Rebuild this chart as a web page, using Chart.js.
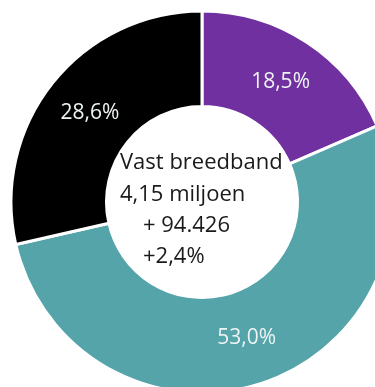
<!DOCTYPE html>
<html>
<head>
<meta charset="utf-8">
<script src="https://cdn.jsdelivr.net/npm/chart.js@4.4.0/dist/chart.umd.min.js"></script>
<style>
  html, body { margin: 0; padding: 0; background: #fff; }
  #wrap { position: relative; width: 375px; height: 387px; overflow: hidden; background: #fff; }
  #c { position: absolute; left: 0; top: 0; }
</style>
</head>
<body>
<div id="wrap"><canvas id="c" width="404" height="404"></canvas></div>
<script>
const categories = ["Paars", "Turquoise", "Zwart"];
const shares = [18.5, 53.0, 28.6];
const shareLabels = ["18,5%", "53,0%", "28,6%"];
const colors = ["#7030A0", "#54A4AA", "#000000"];
const centerLines = ["Vast breedband", "4,15 miljoen", "+ 94.426", "+2,4%"];

const labelPlugin = {
  id: 'arcLabels',
  afterDatasetsDraw(chart) {
    const ctx = chart.ctx;
    const meta = chart.getDatasetMeta(0);
    ctx.save();
    ctx.font = '21px "Open Sans"';
    ctx.fillStyle = '#eef4f4';
    ctx.textAlign = 'center';
    ctx.textBaseline = 'middle';
    meta.data.forEach((arc, i) => {
      const p = arc.tooltipPosition();
      ctx.fillText(shareLabels[i], p.x, p.y);
    });
    // centre text
    const a = meta.data[0];
    const cx = a.x, cy = a.y;
    ctx.fillStyle = '#1a1a1a';
    ctx.font = '22px "Open Sans"';
    ctx.textAlign = 'left';
    const xs = [-82, -82, -59, -59];
    const ys = [-39, -7, 24, 55];
    centerLines.forEach((t, i) => ctx.fillText(t, cx + xs[i], cy + ys[i]));
    ctx.restore();
  }
};

new Chart(document.getElementById('c'), {
  type: 'doughnut',
  data: {
    labels: categories,
    datasets: [{
      data: shares,
      backgroundColor: colors,
      borderColor: '#ffffff',
      borderWidth: 3,
      hoverOffset: 0
    }]
  },
  options: {
    responsive: false,
    animation: false,
    radius: 191,
    cutout: '50%',
    layout: { padding: { top: 0, bottom: 0, left: 0, right: 0 } },
    plugins: { legend: { display: false }, tooltip: { enabled: false } }
  },
  plugins: [labelPlugin]
});
</script>
</body>
</html>
